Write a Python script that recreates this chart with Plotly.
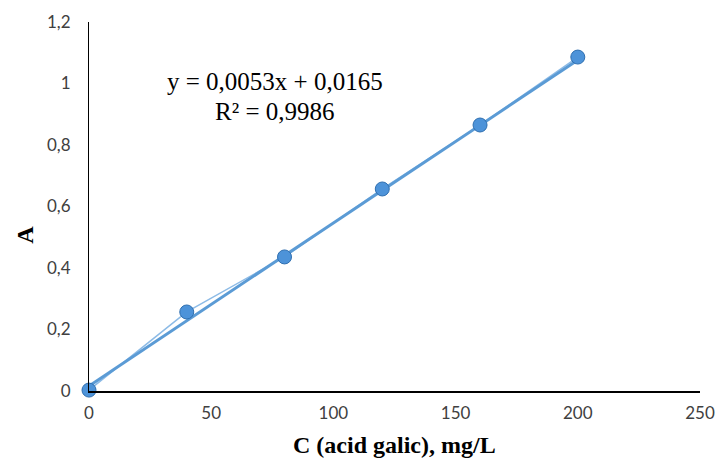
import plotly.graph_objects as go

conc = [0, 40, 80, 120, 160, 200]
absorb = [0.003, 0.257, 0.436, 0.657, 0.865, 1.086]
slope = 0.0053
intercept = 0.0165
trend_x = [0, 200]
trend_y = [intercept + slope * v for v in trend_x]

x_ticks = [0, 50, 100, 150, 200, 250]
y_ticks = [0, 0.2, 0.4, 0.6, 0.8, 1.0, 1.2]
y_labels = ["0", "0,2", "0,4", "0,6", "0,8", "1", "1,2"]

fig = go.Figure()
fig.add_trace(go.Scatter(
    x=conc, y=absorb, mode="lines",
    line=dict(color="#8dbbe6", width=1.5),
    cliponaxis=False, showlegend=False))
fig.add_trace(go.Scatter(
    x=trend_x, y=trend_y, mode="lines",
    line=dict(color="#5b9bd5", width=3),
    cliponaxis=False, showlegend=False))
fig.add_trace(go.Scatter(
    x=conc, y=absorb, mode="markers",
    marker=dict(size=14, color="#4d93d9", line=dict(color="#2f6fb0", width=1)),
    cliponaxis=False, showlegend=False))

serif = "Liberation Serif, Times New Roman, serif"
fig.update_layout(
    width=716, height=462,
    margin=dict(l=89, r=16, t=22, b=71),
    plot_bgcolor="white", paper_bgcolor="white",
    xaxis=dict(range=[0, 250], tickvals=x_ticks, showgrid=False, zeroline=False,
               showline=True, linecolor="black", linewidth=2, ticks="",
               ticklabelstandoff=6, automargin=False,
               tickfont=dict(family="Lato", size=17, color="#404040")),
    yaxis=dict(range=[0, 1.2], tickvals=y_ticks, ticktext=y_labels, showgrid=False,
               zeroline=False, showline=True, linecolor="black", linewidth=1, ticks="",
               ticklabelstandoff=14, automargin=False,
               tickfont=dict(family="Lato", size=17, color="#404040")),
    annotations=[
        dict(text="y = 0,0053x + 0,0165", x=76, y=1.005, xref="x", yref="y",
             showarrow=False, font=dict(family=serif, size=25, color="black")),
        dict(text="R² = 0,9986", x=76, y=0.91, xref="x", yref="y",
             showarrow=False, font=dict(family=serif, size=25, color="black")),
        dict(text="<b>C (acid galic), mg/L</b>", x=0.5, y=-0.146, xref="paper", yref="paper",
             yanchor="middle", showarrow=False, font=dict(family=serif, size=24, color="black")),
        dict(text="<b>A</b>", x=-0.105, y=0.423, xref="paper", yref="paper", textangle=-90,
             xanchor="center", yanchor="middle", showarrow=False,
             font=dict(family=serif, size=24, color="black")),
    ],
)
fig.write_html("out.html", config={"displayModeBar": False},
               post_script="document.body.style.margin='0';")
